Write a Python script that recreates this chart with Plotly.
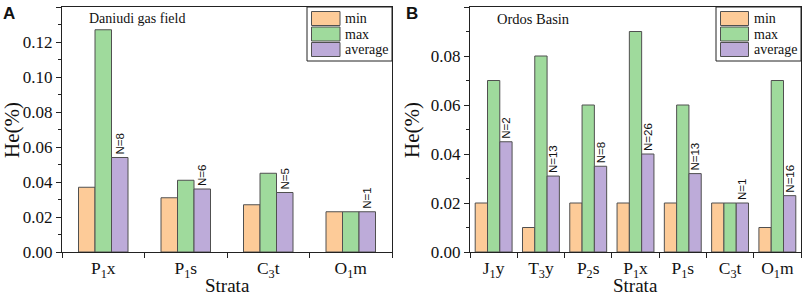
import plotly.graph_objects as go

# ---- data ----
strata_a = ["P<sub>1</sub>x", "P<sub>1</sub>s", "C<sub>3</sub>t", "O<sub>1</sub>m"]
min_a = [0.037, 0.031, 0.027, 0.023]
max_a = [0.127, 0.041, 0.045, 0.023]
avg_a = [0.054, 0.036, 0.034, 0.023]
n_a = ["N=8", "N=6", "N=5", "N=1"]

strata_b = ["J<sub>1</sub>y", "T<sub>3</sub>y", "P<sub>2</sub>s", "P<sub>1</sub>x",
            "P<sub>1</sub>s", "C<sub>3</sub>t", "O<sub>1</sub>m"]
min_b = [0.02, 0.01, 0.02, 0.02, 0.02, 0.02, 0.01]
max_b = [0.07, 0.08, 0.06, 0.09, 0.06, 0.02, 0.07]
avg_b = [0.045, 0.031, 0.035, 0.040, 0.032, 0.020, 0.023]
n_b = ["N=2", "N=13", "N=8", "N=26", "N=13", "N=1", "N=16"]

series_names = ["min", "max", "average"]
colors = ["#FDCB98", "#9FDA9C", "#BDABD9"]
edge = "#505050"
serif = "Liberation Serif"
sans = "Liberation Sans"

W, H = 803, 296
def px(x):
    return x / W
def py(y):
    return 1 - y / H

fig = go.Figure()

def add_panel(cats, vals, ntext, xa, ya, bw):
    offs = [-1.5 * bw, -0.5 * bw, 0.5 * bw]
    for i, v in enumerate(vals):
        fig.add_trace(go.Bar(
            x=cats, y=v, name=series_names[i], xaxis=xa, yaxis=ya,
            width=bw, offset=offs[i],
            marker=dict(color=colors[i], line=dict(color=edge, width=1)),
            text=ntext if i == 2 else None,
            textposition="outside" if i == 2 else "none",
            textangle=-90, constraintext="none", cliponaxis=False,
            textfont=dict(family=sans, size=11.5, color="#111"),
            showlegend=False, hoverinfo="skip",
        ))

add_panel(strata_a, [min_a, max_a, avg_a], n_a, "x", "y", 0.2)
add_panel(strata_b, [min_b, max_b, avg_b], n_b, "x2", "y2", 0.26)

y0, y1 = 252, 7
ax_common = dict(type="category", tickson="boundaries", ticks="outside", ticklen=5,
                 tickwidth=1, tickcolor="#222", showline=True, linecolor="#222",
                 linewidth=1, mirror=True, showgrid=False, automargin=False,
                 tickfont=dict(family=serif, size=17.5, color="#111"))
yax_common = dict(ticks="outside", ticklen=5, tickwidth=1, tickcolor="#222",
                  showline=True, linecolor="#222", linewidth=1, mirror=True,
                  showgrid=False, zeroline=False, tickformat=".2f", dtick=0.02,
                  automargin=False,
                  minor=dict(dtick=0.01, ticks="outside", ticklen=3, tickcolor="#222", showgrid=False),
                  tickfont=dict(family=serif, size=17, color="#111"),
                  domain=[py(y0), py(y1)])

fig.update_layout(
    width=W, height=H, margin=dict(l=0, r=0, t=0, b=0, autoexpand=False),
    plot_bgcolor="white", paper_bgcolor="white", barmode="overlay",
    font=dict(family=serif),
    xaxis=dict(domain=[px(62), px(392)], anchor="y", range=[-0.5, 3.5], **ax_common),
    yaxis=dict(anchor="x", range=[0, 0.14], **yax_common),
    xaxis2=dict(domain=[px(470), px(801)], anchor="y2", range=[-0.5, 6.5], **ax_common),
    yaxis2=dict(anchor="x2", range=[0, 0.10], **yax_common),
)

ann = []
# axis titles
for xc in [(62 + 392) / 2, (470 + 801) / 2]:
    ann.append(dict(x=px(xc), y=py(285.5), xref="paper", yref="paper", text="Strata",
                    showarrow=False, font=dict(family=serif, size=19, color="#111"),
                    xanchor="center", yanchor="middle"))
for xc in [12, 412]:
    ann.append(dict(x=px(xc), y=py(130), xref="paper", yref="paper", text="He(%)",
                    textangle=-90, showarrow=False,
                    font=dict(family=serif, size=21, color="#111"),
                    xanchor="center", yanchor="middle"))
# panel letters
ann.append(dict(x=px(9), y=py(14), xref="paper", yref="paper", text="<b>A</b>",
                showarrow=False, font=dict(family=sans, size=17, color="#111"),
                xanchor="center", yanchor="middle"))
ann.append(dict(x=px(412), y=py(14), xref="paper", yref="paper", text="<b>B</b>",
                showarrow=False, font=dict(family=sans, size=17, color="#111"),
                xanchor="center", yanchor="middle"))
# panel labels
ann.append(dict(x=px(137), y=py(19), xref="paper", yref="paper", text="Daniudi gas field",
                showarrow=False, font=dict(family=serif, size=14, color="#111"),
                xanchor="center", yanchor="middle"))
ann.append(dict(x=px(533), y=py(19), xref="paper", yref="paper", text="Ordos Basin",
                showarrow=False, font=dict(family=serif, size=14.5, color="#111"),
                xanchor="center", yanchor="middle"))

shapes = []
# manual legends
for (bx0, bx1, sx0, sx1, tx) in [(307, 392, 311.5, 340, 342.5), (716, 801, 720.5, 748.5, 751.5)]:
    shapes.append(dict(type="rect", xref="paper", yref="paper",
                       x0=px(bx0), x1=px(bx1), y0=py(61), y1=py(7),
                       line=dict(color="#222", width=1), fillcolor="white", layer="above"))
    sw = [(11.5, 25.5), (27, 41), (42.5, 56.5)]
    for i, (ya0, ya1) in enumerate(sw):
        shapes.append(dict(type="rect", xref="paper", yref="paper",
                           x0=px(sx0), x1=px(sx1), y0=py(ya1), y1=py(ya0),
                           line=dict(color=edge, width=1), fillcolor=colors[i], layer="above"))
        ann.append(dict(x=px(tx), y=py((ya0 + ya1) / 2), xref="paper", yref="paper",
                        text=series_names[i], showarrow=False,
                        font=dict(family=serif, size=14, color="#111"),
                        xanchor="left", yanchor="middle"))

fig.update_layout(annotations=ann, shapes=shapes, hovermode=False)
fig.write_html("out.html", config={"displayModeBar": False, "staticPlot": True},
               post_script="document.body.style.margin='0';document.body.style.padding='0';")
